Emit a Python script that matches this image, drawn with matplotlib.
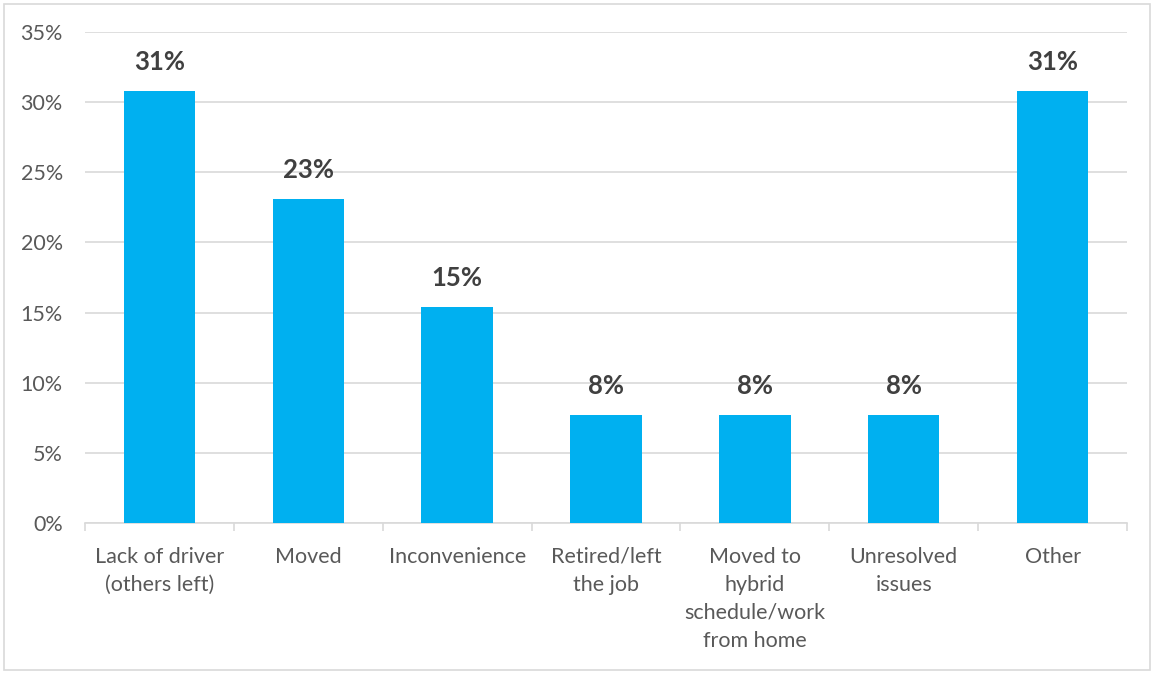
import numpy as np
import matplotlib.pyplot as plt
from matplotlib.patches import Rectangle

# Reasons for leaving, share of respondents
categories = ['Lack of driver\n(others left)', 'Moved', 'Inconvenience',
              'Retired/left\nthe job', 'Moved to\nhybrid\nschedule/work\nfrom home',
              'Unresolved\nissues', 'Other']
shares = [30.77, 23.08, 15.38, 7.69, 7.69, 7.69, 30.77]
y_ticks = [0, 5, 10, 15, 20, 25, 30, 35]

bar_color = '#00B0F0'
text_color = '#595959'
label_color = '#404040'
grid_color = '#D9D9D9'

plt.rcParams['font.family'] = ['Lato', 'DejaVu Sans']

fig = plt.figure(figsize=(11.55, 6.75), dpi=100)
ax = fig.add_axes([85 / 1155, 1 - 523 / 675, (1127 - 85) / 1155, (523 - 32) / 675])

# light frame round the whole chart
fig.patches.append(Rectangle((4 / 1155, 1 - 670 / 675), 1146 / 1155, 666 / 675,
                             transform=fig.transFigure, fill=False,
                             edgecolor='#D9D9D9', linewidth=1.2))

x = np.arange(len(categories))
bars = ax.bar(x, shares, width=0.48, color=bar_color, zorder=3)

for b, v in zip(bars, shares):
    ax.text(b.get_x() + b.get_width() / 2, v + 1.25, f'{v:.0f}%',
            ha='center', va='bottom', fontsize=18.5, fontweight='bold',
            color=label_color)

ax.set_xlim(-0.5, len(categories) - 0.5)
ax.set_ylim(0, 35)
ax.set_yticks(y_ticks)
ax.set_yticklabels([f'{t}%' for t in y_ticks])
ax.yaxis.grid(True, color=grid_color, linewidth=1.2, zorder=0)
ax.tick_params(axis='y', length=0, pad=16, labelsize=15.5, labelcolor=text_color)

# category labels centred, tick marks on the boundaries
ax.set_xticks(x)
ax.set_xticklabels(categories, linespacing=1.5, va='top')
ax.set_xticks(np.arange(-0.5, len(categories)), minor=True)
ax.tick_params(axis='x', which='major', length=0, pad=17, labelsize=15.5,
               labelcolor=text_color)
ax.tick_params(axis='x', which='minor', length=6, width=1.2, color=grid_color)

for side in ['top', 'right', 'left']:
    ax.spines[side].set_visible(False)
ax.spines['bottom'].set_color(grid_color)
ax.spines['bottom'].set_linewidth(1.2)

fig.savefig('out.png', dpi=100)
